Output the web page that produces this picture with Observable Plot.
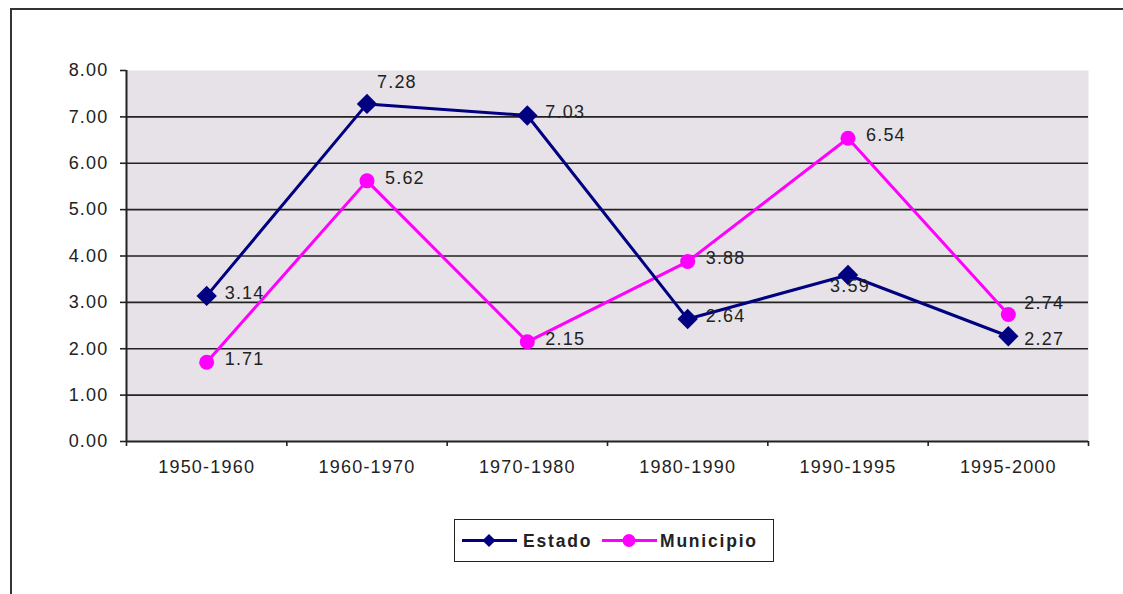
<!DOCTYPE html>
<html>
<head>
<meta charset="utf-8">
<script src="https://cdn.jsdelivr.net/npm/d3@7"></script>
<script src="https://cdn.jsdelivr.net/npm/@observablehq/plot@0.6"></script>
<style>
  body { margin: 0; background: #fff; }
  #wrap { position: relative; width: 1123px; height: 594px; overflow: hidden; font-family: "Liberation Sans", Arial, sans-serif; }
  #border { position: absolute; left: 10px; top: 8px; width: 1200px; height: 700px; border-top: 2px solid #333; border-left: 2px solid #333; }
  #chart { position: absolute; left: 0; top: 0; }
  #chart text { letter-spacing: 1.2px; }
  #legend { position: absolute; left: 454px; top: 519px; width: 318px; height: 41px; border: 1.5px solid #222; background: #fff; }
  #legend svg { display: block; }
</style>
</head>
<body>
<div id="wrap">
  <div id="border"></div>
  <div id="chart"></div>
  <div id="legend"></div>
</div>
<script>
const categories = ["1950-1960", "1960-1970", "1970-1980", "1980-1990", "1990-1995", "1995-2000"];
const estado = [3.14, 7.28, 7.03, 2.64, 3.59, 2.27];
const municipio = [1.71, 5.62, 2.15, 3.88, 6.54, 2.74];
const yTicks = [0, 1, 2, 3, 4, 5, 6, 7, 8];
const seriesNames = ["Estado", "Municipio"];
const seriesColors = ["#000080", "#FF00FF"];

const rows = [];
categories.forEach((c, i) => {
  rows.push({cat: c, pos: i + 0.5, series: seriesNames[0], value: estado[i]});
  rows.push({cat: c, pos: i + 0.5, series: seriesNames[1], value: municipio[i]});
});
const est = rows.filter(d => d.series === "Estado");
const mun = rows.filter(d => d.series === "Municipio");
const fmt = d => d.value.toFixed(2);
const textColor = "#222";
const fs = 18;

const labelMarks = (data, dx, dy, anchor) => Plot.text(data, {
  x: "pos", y: "value", text: fmt, dx, dy, textAnchor: anchor,
  fill: textColor, fontSize: fs, lineAnchor: "middle"
});

const plot = Plot.plot({
  width: 1123,
  height: 594,
  marginLeft: 126,
  marginRight: 35,
  marginTop: 70,
  marginBottom: 153,
  style: {fontFamily: '"Liberation Sans", Arial, sans-serif', fontSize: fs + "px", color: textColor, background: "transparent"},
  x: {type: "linear", domain: [0, categories.length]},
  y: {domain: [0, 8]},
  marks: [
    Plot.frame({fill: "#E6E2E7", stroke: null}),
    Plot.ruleY(yTicks.filter(d => d > 0 && d < 8), {stroke: "#222", strokeWidth: 1.6}),
    Plot.axisY({ticks: yTicks, tickFormat: d => d.toFixed(2), tickSize: 6, tickPadding: 12, stroke: "#222", strokeWidth: 1.6, fontSize: fs, fill: textColor, label: null}),
    Plot.axisX({ticks: d3.range(0, categories.length + 1), tickFormat: () => "", tickSize: 5, stroke: "#222", strokeWidth: 1.6, label: null}),
    Plot.axisX({ticks: categories.map((c, i) => i + 0.5), tickFormat: v => categories[Math.floor(v)], tickSize: 0, tickPadding: 19, fontSize: fs, fill: textColor, label: null}),
    Plot.ruleX([0], {stroke: "#222", strokeWidth: 2}),
    Plot.ruleY([0], {stroke: "#222", strokeWidth: 2}),
    Plot.line(mun, {x: "pos", y: "value", stroke: seriesColors[1], strokeWidth: 3}),
    Plot.line(est, {x: "pos", y: "value", stroke: seriesColors[0], strokeWidth: 3}),
    Plot.dot(mun, {x: "pos", y: "value", r: 7.5, fill: seriesColors[1], stroke: null}),
    Plot.dot(est, {x: "pos", y: "value", r: 9.2, symbol: "diamond2", fill: seriesColors[0], stroke: null}),
    // Estado labels
    labelMarks(est.filter(d => !["1960-1970", "1990-1995", "1995-2000"].includes(d.cat)), 18, -3, "start"),
    labelMarks(est.filter(d => d.cat === "1960-1970"), 10, -22, "start"),
    labelMarks(est.filter(d => d.cat === "1990-1995"), 2, 11, "middle"),
    labelMarks(est.filter(d => d.cat === "1995-2000"), 16, 3, "start"),
    // Municipio labels
    labelMarks(mun.filter(d => d.cat !== "1995-2000"), 18, -3, "start"),
    labelMarks(mun.filter(d => d.cat === "1995-2000"), 16, -11, "start")
  ]
});
document.getElementById("chart").appendChild(plot);

// Legend
const lg = d3.select("#legend").append("svg").attr("width", 318).attr("height", 41);
const items = [
  {name: seriesNames[0], color: seriesColors[0], x0: 7, marker: "diamond", tx: 68},
  {name: seriesNames[1], color: seriesColors[1], x0: 147, marker: "circle", tx: 205}
];
items.forEach(it => {
  const g = lg.append("g");
  g.append("line").attr("x1", it.x0).attr("x2", it.x0 + 55).attr("y1", 20.5).attr("y2", 20.5)
    .attr("stroke", it.color).attr("stroke-width", 3);
  const cx = it.x0 + 27;
  if (it.marker === "diamond") {
    g.append("path").attr("d", d3.symbol(d3.symbolDiamond2, 110)()).attr("transform", `translate(${cx},20.5)`).attr("fill", it.color);
  } else {
    g.append("circle").attr("cx", cx).attr("cy", 20.5).attr("r", 6.5).attr("fill", it.color);
  }
  g.append("text").attr("x", it.tx).attr("y", 20.5).attr("dy", "0.35em")
    .attr("font-family", '"Liberation Sans", Arial, sans-serif').attr("font-size", 17.5).attr("font-weight", "bold")
    .attr("letter-spacing", "1.8px").attr("fill", textColor).text(it.name);
});
</script>
</body>
</html>
